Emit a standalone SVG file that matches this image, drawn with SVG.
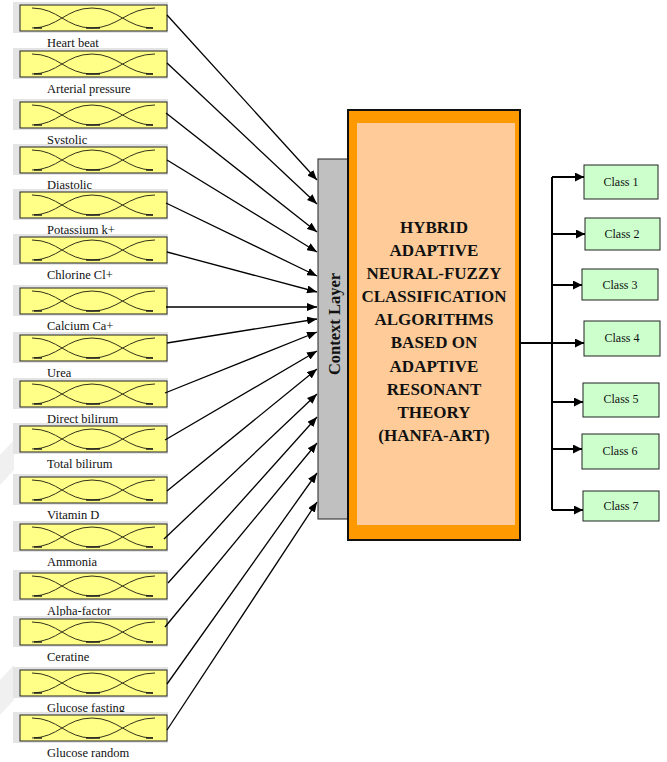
<svg xmlns="http://www.w3.org/2000/svg" xmlns:xlink="http://www.w3.org/1999/xlink" width="667" height="762" viewBox="0 0 667 762">
<style>
.lbl{font-family:"Liberation Serif","Times New Roman",serif;font-size:12.5px;fill:#111}
.cls{font-family:"Liberation Serif","Times New Roman",serif;font-size:12px;fill:#111;text-anchor:middle}
.big{font-family:"Liberation Serif","Times New Roman",serif;font-size:17px;font-weight:bold;fill:#111;text-anchor:middle}
.ctx{font-family:"Liberation Serif","Times New Roman",serif;font-size:16.5px;font-weight:bold;fill:#111;text-anchor:middle}
.in{stroke:#000;stroke-width:1.3;fill:none;marker-end:url(#ah)}
.out{stroke:#000;stroke-width:2;fill:none}
.oa{marker-end:url(#ah2)}
.cbox{fill:#ccffcc;stroke:#222;stroke-width:1}
.mfc{fill:none;stroke:#333319;stroke-width:1}
.mfb{fill:none;stroke:#222;stroke-width:1.6}
</style>
<defs>
<marker id="ah" markerUnits="userSpaceOnUse" markerWidth="11" markerHeight="8" refX="10" refY="4" orient="auto">
<path d="M0,0 L10,4 L0,8 z" fill="#000"/>
</marker>
<marker id="ah2" markerUnits="userSpaceOnUse" markerWidth="9" markerHeight="9" refX="9" refY="4.5" orient="auto">
<path d="M0,0 L9,4.5 L0,9 z" fill="#000"/>
</marker>
<g id="mf">
<rect x="13" y="0" width="155" height="31" fill="#e4e4e4"/>
<rect x="20" y="3" width="147" height="26" fill="#ffff88" stroke="#222" stroke-width="1"/>
<path class="mfc" d="M32,6 C58,6 66,26 92,26"/>
<path class="mfc" d="M32,26 C58,26 66,6 92,6 C118,6 127,26 153,26"/>
<path class="mfc" d="M92,26 C118,26 127,6 155,6"/>
<path class="mfb" d="M34,26 H42 M86,26 H100 M146,26 H153"/>
</g>
</defs>
<rect width="667" height="762" fill="#fff"/>
<g id="watermark" fill="#f0f0f0">
<polygon points="0,455 14,440 14,470 0,485"/>
<polygon points="0,680 14,665 14,700 0,715"/>
</g>
<g id="inputs">
<g id="in1"><use xlink:href="#mf" transform="translate(0,2)"/><text class="lbl" x="47" y="47">Heart beat</text></g>
<g id="in2"><use xlink:href="#mf" transform="translate(0,48)"/><text class="lbl" x="47" y="93">Arterial pressure</text></g>
<g id="in3"><use xlink:href="#mf" transform="translate(0,99)"/><text class="lbl" x="47" y="144">Systolic</text></g>
<g id="in4"><use xlink:href="#mf" transform="translate(0,144)"/><text class="lbl" x="47" y="189">Diastolic</text></g>
<g id="in5"><use xlink:href="#mf" transform="translate(0,189)"/><text class="lbl" x="47" y="234">Potassium k+</text></g>
<g id="in6"><use xlink:href="#mf" transform="translate(0,234)"/><text class="lbl" x="47" y="279">Chlorine Cl+</text></g>
<g id="in7"><use xlink:href="#mf" transform="translate(0,285)"/><text class="lbl" x="47" y="330">Calcium Ca+</text></g>
<g id="in8"><use xlink:href="#mf" transform="translate(0,332)"/><text class="lbl" x="47" y="377">Urea</text></g>
<g id="in9"><use xlink:href="#mf" transform="translate(0,378)"/><text class="lbl" x="47" y="423">Direct bilirum</text></g>
<g id="in10"><use xlink:href="#mf" transform="translate(0,423)"/><text class="lbl" x="47" y="468">Total bilirum</text></g>
<g id="in11"><use xlink:href="#mf" transform="translate(0,474)"/><text class="lbl" x="47" y="519">Vitamin D</text></g>
<g id="in12"><use xlink:href="#mf" transform="translate(0,521)"/><text class="lbl" x="47" y="566">Ammonia</text></g>
<g id="in13"><use xlink:href="#mf" transform="translate(0,570)"/><text class="lbl" x="47" y="615">Alpha-factor</text></g>
<g id="in14"><use xlink:href="#mf" transform="translate(0,616)"/><text class="lbl" x="47" y="661">Ceratine</text></g>
<g id="in15"><use xlink:href="#mf" transform="translate(0,667)"/><text class="lbl" x="47" y="712">Glucose fasting</text></g>
<g id="in16"><use xlink:href="#mf" transform="translate(0,712)"/><text class="lbl" x="47" y="757">Glucose random</text></g>
</g>
<g id="context-layer">
<rect x="318" y="159" width="30" height="360" fill="#c0c0c0" stroke="#222" stroke-width="1"/>
<text class="ctx" transform="translate(340,324) rotate(-90)">Context Layer</text>
</g>
<g id="hanfa-art">
<rect x="348" y="110" width="172" height="430" fill="#ff9900" stroke="#111" stroke-width="2"/>
<rect x="357" y="123" width="158" height="402" fill="#ffcc99"/>
<text class="big" x="434" y="233">HYBRID</text>
<text class="big" x="434" y="256">ADAPTIVE</text>
<text class="big" x="434" y="279">NEURAL-FUZZY</text>
<text class="big" x="434" y="302">CLASSIFICATION</text>
<text class="big" x="434" y="325">ALGORITHMS</text>
<text class="big" x="434" y="348">BASED ON</text>
<text class="big" x="434" y="372">ADAPTIVE</text>
<text class="big" x="434" y="395">RESONANT</text>
<text class="big" x="434" y="418">THEORY</text>
<text class="big" x="434" y="441">(HANFA-ART)</text>
</g>
<g id="classes">
<g id="c1"><rect class="cbox" x="584" y="165" width="74" height="34"/><text class="cls" x="621" y="186">Class 1</text></g>
<g id="c2"><rect class="cbox" x="585" y="218" width="75" height="32"/><text class="cls" x="622" y="238">Class 2</text></g>
<g id="c3"><rect class="cbox" x="582" y="269" width="76" height="31"/><text class="cls" x="620" y="289">Class 3</text></g>
<g id="c4"><rect class="cbox" x="584" y="321" width="76" height="35"/><text class="cls" x="622" y="342">Class 4</text></g>
<g id="c5"><rect class="cbox" x="583" y="383" width="76" height="34"/><text class="cls" x="621" y="403">Class 5</text></g>
<g id="c6"><rect class="cbox" x="582" y="434" width="77" height="35"/><text class="cls" x="620" y="455">Class 6</text></g>
<g id="c7"><rect class="cbox" x="583" y="491" width="76" height="30"/><text class="cls" x="621" y="510">Class 7</text></g>
</g>
<g id="connectors">
<path class="in" d="M167,15 L317,180"/>
<path class="in" d="M167,63 L317,204"/>
<path class="in" d="M166,113 L317,232"/>
<path class="in" d="M167,160 L317,252"/>
<path class="in" d="M166,203 L317,276"/>
<path class="in" d="M167,252 L317,292"/>
<path class="in" d="M166,307 L317,307"/>
<path class="in" d="M167,343 L317,319"/>
<path class="in" d="M165,393 L317,332"/>
<path class="in" d="M165,440 L317,351"/>
<path class="in" d="M167,491 L317,369"/>
<path class="in" d="M164,539 L317,394"/>
<path class="in" d="M168,583 L317,417"/>
<path class="in" d="M165,627 L317,443"/>
<path class="in" d="M167,684 L317,473"/>
<path class="in" d="M167,730 L317,502"/>
<path class="out" d="M521,343 H552 M552,177 V510"/>
<path class="out oa" d="M552,177 H584"/>
<path class="out oa" d="M552,234 H585"/>
<path class="out oa" d="M552,285 H582"/>
<path class="out oa" d="M552,343 H584"/>
<path class="out oa" d="M552,402 H583"/>
<path class="out oa" d="M552,449 H582"/>
<path class="out oa" d="M552,510 H583"/>
</g>
</svg>
